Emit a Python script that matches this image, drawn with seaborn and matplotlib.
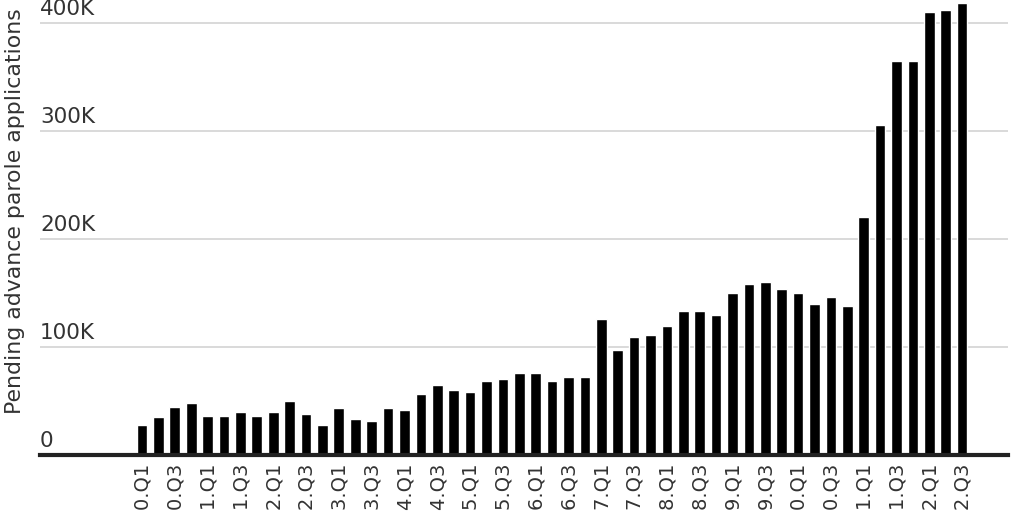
import matplotlib.pyplot as plt
import matplotlib.transforms as mtransforms
import pandas as pd
import seaborn as sns

# Quarterly pending advance parole applications, FY2010.Q1 - FY2022.Q3
quarters = [f"{year}.Q{q}" for year in range(2010, 2023) for q in range(1, 5)][:51]
pending = [
    27800, 34900, 44800, 48100,
    36400, 36400, 39800, 36400,
    39800, 50000, 38300, 27800,
    43200, 33000, 31200, 43200,
    41400, 56800, 65200, 60200,
    58300, 68800, 70100, 75600,
    75600, 68800, 71900, 71900,
    126200, 97500, 109300, 111100,
    119400, 133000, 133000, 129600,
    149700, 158300, 159900, 153400,
    149700, 139800, 146300, 138000,
    220700, 305600, 364800, 364800,
    410500, 412000, 418800,
]
y_ticks = [0, 100000, 200000, 300000, 400000]
y_tick_labels = ["0", "100K", "200K", "300K", "400K"]

sns.set_style("white")
plt.rcParams["font.family"] = ["DejaVu Sans"]

df = pd.DataFrame({"quarter": quarters, "pending": pending})

fig = plt.figure(figsize=(10.24, 5.12), dpi=100)
ax = fig.add_axes([40 / 1024, 57 / 512, 968 / 1024, 455 / 512])

sns.barplot(data=df, x="quarter", y="pending", color="black",
            saturation=1, width=0.65, ax=ax)

ax.set_xlim(-6.22, 52.8)
ax.set_ylim(0, 421300)

# gridlines
ax.set_yticks(y_ticks)
ax.yaxis.grid(True, color="#d9d9d9", linewidth=1.4)
ax.set_axisbelow(True)
ax.tick_params(axis="y", length=0, labelleft=False)

# y tick labels sit above the gridlines, inside the plot
trans = mtransforms.offset_copy(ax.get_yaxis_transform(), fig=fig, y=8, units="dots")
for v, lab in zip(y_ticks, y_tick_labels):
    ax.text(0, v, lab, transform=trans, ha="left", va="baseline",
            fontsize=15.5, color="#333333", clip_on=False)

# x ticks every other quarter
ax.set_xticks(range(0, len(quarters), 2))
ax.set_xticklabels(quarters[::2], rotation=90, fontsize=14, color="#333333")
ax.tick_params(axis="x", length=0, pad=5)

for side in ["top", "right", "left"]:
    ax.spines[side].set_visible(False)
ax.spines["bottom"].set_color("#222222")
ax.spines["bottom"].set_linewidth(3)

ax.set_xlabel("")
ax.set_ylabel("")
fig.text(15 / 1024, 301 / 512, "Pending advance parole applications",
         rotation=90, ha="center", va="center", fontsize=15.8, color="#333333")

fig.savefig("out.png", dpi=100)
